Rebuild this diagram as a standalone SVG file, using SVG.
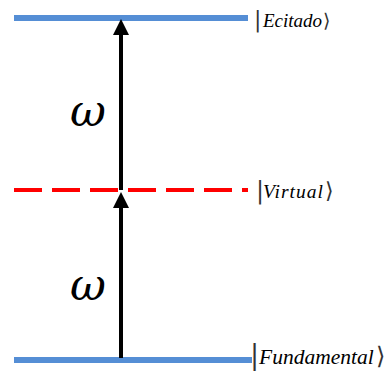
<svg xmlns="http://www.w3.org/2000/svg" width="390" height="376" viewBox="0 0 390 376">
<style>
.lvl{stroke:#558ED5;stroke-width:6;fill:none}
.virt{stroke:#FF0000;stroke-width:4;stroke-dasharray:28 10;fill:none}
.arr{stroke:#000;stroke-width:4;fill:none}
.lbl{font-family:"Liberation Serif","Times New Roman",serif;font-style:italic;fill:#000}
.dl{font-family:"DejaVu Serif","Liberation Serif",serif;font-style:normal;fill:#333}
.om{font-family:"DejaVu Serif",serif;font-style:italic;font-size:44px;fill:#000}
</style>
<defs>
<marker id="ah" markerUnits="userSpaceOnUse" markerWidth="16" markerHeight="16" refX="0" refY="8" orient="auto" viewBox="0 0 16 16">
<path d="M0,0 L16,8 L0,16 z" fill="#000"/>
</marker>
</defs>
<g id="level-excited">
<line class="lvl" x1="14" y1="18" x2="248" y2="18"/>
<text class="lbl" y="27"><tspan class="dl" x="254" font-size="22">|</tspan><tspan x="263" font-size="19">Ecitado</tspan><tspan class="dl" x="323" font-size="19">⟩</tspan></text>
</g>
<g id="level-virtual">
<line class="virt" x1="14" y1="190" x2="248" y2="190"/>
<text class="lbl" y="198"><tspan class="dl" x="256" font-size="24">|</tspan><tspan x="263" font-size="19.5" letter-spacing="1">Virtual</tspan><tspan class="dl" x="325" font-size="22">⟩</tspan></text>
</g>
<g id="level-ground">
<line class="lvl" x1="14" y1="360" x2="252" y2="360"/>
<text class="lbl" y="364"><tspan class="dl" x="250" font-size="27">|</tspan><tspan x="259" font-size="21.5">Fundamental</tspan><tspan class="dl" x="376" font-size="24">⟩</tspan></text>
</g>
<g id="connectors">
<line class="arr" x1="121" y1="358" x2="121" y2="208" marker-end="url(#ah)"/>
<line class="arr" x1="121" y1="190" x2="121" y2="35" marker-end="url(#ah)"/>
</g>
<g id="omega-upper"><text class="om" x="70" y="126">ω</text></g>
<g id="omega-lower"><text class="om" x="70" y="300">ω</text></g>
</svg>
